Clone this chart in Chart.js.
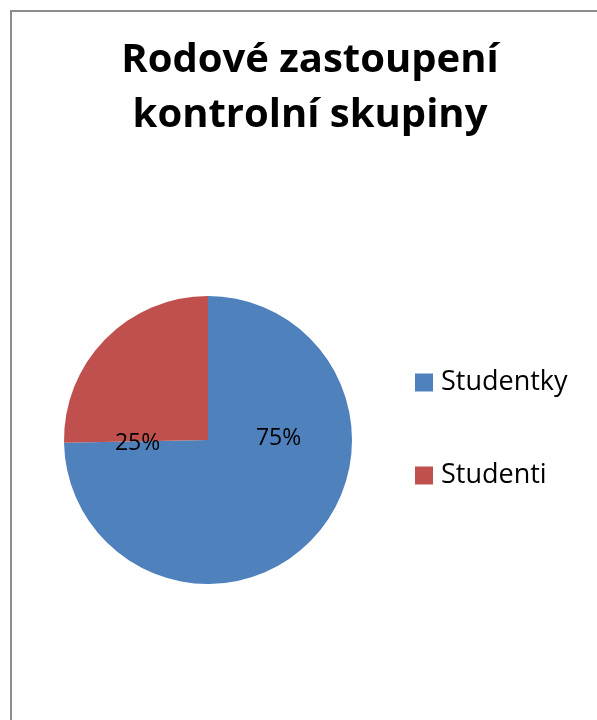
<!DOCTYPE html>
<html>
<head>
<meta charset="utf-8">
<script src="https://cdn.jsdelivr.net/npm/chart.js@4.4.0/dist/chart.umd.min.js"></script>
<style>
  html, body { margin: 0; padding: 0; background: #fff; overflow: hidden; }
  #box {
    position: absolute; left: 10px; top: 10px;
    width: 620px; height: 730px;
    border-left: 2px solid #8c8c8c; border-top: 2px solid #8c8c8c;
  }
  #wrap { position: absolute; left: 0; top: 0; width: 596px; height: 708px; }
</style>
</head>
<body>
<div id="box"><div id="wrap"><canvas id="pie"></canvas></div></div>
<script>
// data
const categories = ["Studentky", "Studenti"];
const shares = [74.7, 25.3];
const colors = ["#4F81BD", "#C0504D"];
const titleLines = ["Rodové zastoupení", "kontrolní skupiny"];

const FONT = "'Open Sans', sans-serif";
const PIE_LEFT = 52;    // gap left of the pie
const LEGEND_W = 256;   // room kept on the right for the legend

// percentage labels, placed roughly like Excel's best fit
const labelPlace = [
  { angle: -1.5, dist: 0.49 },   // Studentky
  { angle: 177, dist: 0.49 }     // Studenti
];

const pctLabels = {
  id: "pctLabels",
  afterDatasetsDraw(chart) {
    const ctx = chart.ctx;
    const meta = chart.getDatasetMeta(0);
    const total = shares.reduce((a, b) => a + b, 0);
    ctx.save();
    ctx.font = "23px " + FONT;
    ctx.fillStyle = "#000";
    ctx.textAlign = "center";
    ctx.textBaseline = "middle";
    meta.data.forEach((arc, i) => {
      const a = labelPlace[i].angle * Math.PI / 180;
      const r = arc.outerRadius * labelPlace[i].dist;
      ctx.fillText(Math.round(shares[i] / total * 100) + "%",
        arc.x + Math.cos(a) * r, arc.y + Math.sin(a) * r);
    });
    ctx.restore();
  }
};

// legend on the right: keep room for it after layout, then draw it
const sideLegend = {
  id: "sideLegend",
  afterLayout(chart) {
    const a = chart.chartArea;
    const left = a.left + PIE_LEFT;
    const right = a.right - LEGEND_W;
    chart.chartArea = {
      left: left, top: a.top, right: right, bottom: a.bottom,
      width: right - left, height: a.height
    };
  },
  afterDraw(chart) {
    const ctx = chart.ctx;
    const area = chart.chartArea;
    const x0 = area.right + 63;
    const gap = 93;
    const midY = (area.top + area.bottom) / 2 - 11;
    const n = chart.data.labels.length;
    ctx.save();
    ctx.font = "27px " + FONT;
    ctx.textBaseline = "middle";
    chart.data.labels.forEach((lab, i) => {
      const cy = midY + (i - (n - 1) / 2) * gap;
      ctx.fillStyle = chart.data.datasets[0].backgroundColor[i];
      ctx.fillRect(x0, cy - 9, 18, 18);
      ctx.fillStyle = "#000";
      ctx.fillText(lab, x0 + 26, cy);
    });
    ctx.restore();
  }
};

new Chart(document.getElementById("pie"), {
  type: "pie",
  data: {
    labels: categories,
    datasets: [{
      data: shares,
      backgroundColor: colors,
      borderWidth: 0
    }]
  },
  options: {
    responsive: true,
    maintainAspectRatio: false,
    animation: false,
    layout: { padding: { left: 0, right: 0, top: 0, bottom: 12 } },
    plugins: {
      legend: { display: false },
      tooltip: { enabled: false },
      title: {
        display: true,
        text: titleLines,
        color: "#000",
        font: { family: FONT, size: 40, weight: "bold", lineHeight: 1.375 },
        padding: { top: 21.5, bottom: 28.5 }
      }
    }
  },
  plugins: [pctLabels, sideLegend]
});
</script>
</body>
</html>
